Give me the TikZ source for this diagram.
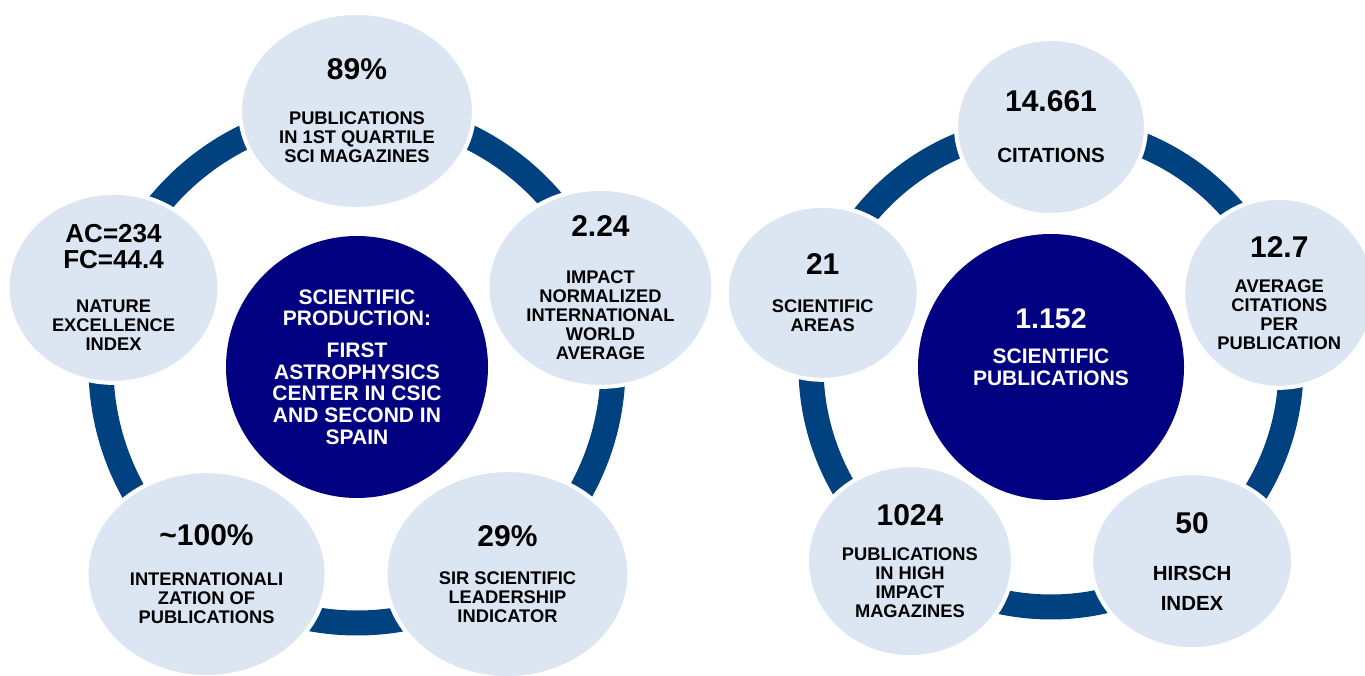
\documentclass[tikz,border=0pt]{standalone}
\usepackage{fontspec}
\setmainfont{Liberation Sans}
\usetikzlibrary{shapes.geometric,backgrounds,calc}
\definecolor{bubfill}{HTML}{DCE6F2}
\definecolor{ringblue}{HTML}{00417F}
\definecolor{corenavy}{HTML}{000080}
\newcommand{\lblfont}{\fontsize{18.3}{19}\selectfont\bfseries}
\newcommand{\corefont}{\fontsize{21}{21.7}\selectfont\bfseries}
\newcommand{\bignum}[1]{{\fontsize{30}{30}\selectfont #1}}
\newcommand{\midlbl}[1]{{\fontsize{20.5}{20.5}\selectfont #1}}
\tikzset{
	bub/.style={ellipse, fill=bubfill, draw=white, line width=4pt, inner sep=0pt},
	core/.style={circle, fill=corenavy, inner sep=0pt},
	ring/.style={draw=ringblue, line width=25pt},
	txt/.style={align=center, font=\lblfont, text=black, inner sep=0pt, anchor=center},
	wtxt/.style={txt, font=\corefont, text=white},
}
\begin{document}
\begin{tikzpicture}[x=1pt,y=1pt]
	\useasboundingbox (0,0) rectangle (1365,675);
	\coordinate (cl) at (357,308);
	\coordinate (cr) at (1051,308);

	% left cycle
	\node[core, minimum size=262pt, label={[wtxt]center:{SCIENTIFIC\\PRODUCTION:\\[10pt]FIRST\\ASTROPHYSICS\\CENTER IN CSIC\\AND SECOND IN\\SPAIN}}] (pl) at (cl) {};
	\node[bub, minimum width=234pt, minimum height=196pt, label={[txt]center:{\bignum{89\%}\\[26pt]PUBLICATIONS\\IN 1ST QUARTILE\\SCI MAGAZINES}}] (t1) at ($(cl)+(90:256pt)$) {};
	\node[bub, minimum width=226pt, minimum height=198pt, label={[txt]center:{\bignum{2.24}\\[28pt]IMPACT\\NORMALIZED\\INTERNATIONAL\\WORLD\\AVERAGE}}] (r1) at ($(cl)+(18:256pt)$) {};
	\node[bub, minimum width=244pt, minimum height=208pt, label={[txt]center:{\bignum{29\%}\\[19pt]SIR SCIENTIFIC\\LEADERSHIP\\INDICATOR}}] (br1) at ($(cl)+(-54:256pt)$) {};
	\node[bub, minimum width=240pt, minimum height=206pt, label={[txt]center:{\bignum{\textasciitilde100\%}\\[21pt]INTERNATIONALI\\ZATION OF\\PUBLICATIONS}}] (bl1) at ($(cl)+(-126:256pt)$) {};
	\node[bub, minimum width=212pt, minimum height=190pt, label={[txt]center:{{\fontsize{26}{26}\selectfont AC=234}\\[7pt]{\fontsize{26}{26}\selectfont FC=44.4}\\[25pt]NATURE\\EXCELLENCE\\INDEX}}] (l1) at ($(cl)+(162:256pt)$) {};

	% right cycle
	\node[core, minimum size=266pt, label={[wtxt, yshift=20pt]center:{{\fontsize{28.5}{28.5}\selectfont 1.152}\\[14pt]SCIENTIFIC\\PUBLICATIONS}}] (pr) at (cr) {};
	\node[bub, minimum width=190pt, minimum height=176pt, label={[txt]center:{\bignum{14.661}\\[32pt]\midlbl{CITATIONS}}}] (t2) at ($(cr)+(90:240pt)$) {};
	\node[bub, minimum width=192pt, minimum height=190pt, label={[txt]center:{\bignum{12.7}\\[16pt]AVERAGE\\CITATIONS\\PER\\PUBLICATION}}] (r2) at ($(cr)+(18:240pt)$) {};
	\node[bub, minimum width=202pt, minimum height=176pt, label={[txt]center:{\bignum{50}\\[28pt]\midlbl{HIRSCH}\\[11pt]\midlbl{INDEX}}}] (br2) at ($(cr)+(-54:240pt)$) {};
	\node[bub, minimum width=206pt, minimum height=192pt, label={[txt]center:{\bignum{1024}\\[16pt]PUBLICATIONS\\IN HIGH\\IMPACT\\MAGAZINES}}] (bl2) at ($(cr)+(-126:240pt)$) {};
	\node[bub, minimum width=192pt, minimum height=174pt, label={[txt]center:{\bignum{21}\\[19pt]SCIENTIFIC\\AREAS}}] (l2) at ($(cr)+(162:240pt)$) {};

	\begin{scope}[on background layer]
		\foreach \s/\a in {t1/90, r1/18, br1/-54, bl1/-126, l1/162}
			\draw[ring] (\s.center) arc[start angle=\a, delta angle=-72, radius=256pt];
		\foreach \s/\a in {t2/90, r2/18, br2/-54, bl2/-126, l2/162}
			\draw[ring] (\s.center) arc[start angle=\a, delta angle=-72, radius=240pt];
	\end{scope}
\end{tikzpicture}
\end{document}
